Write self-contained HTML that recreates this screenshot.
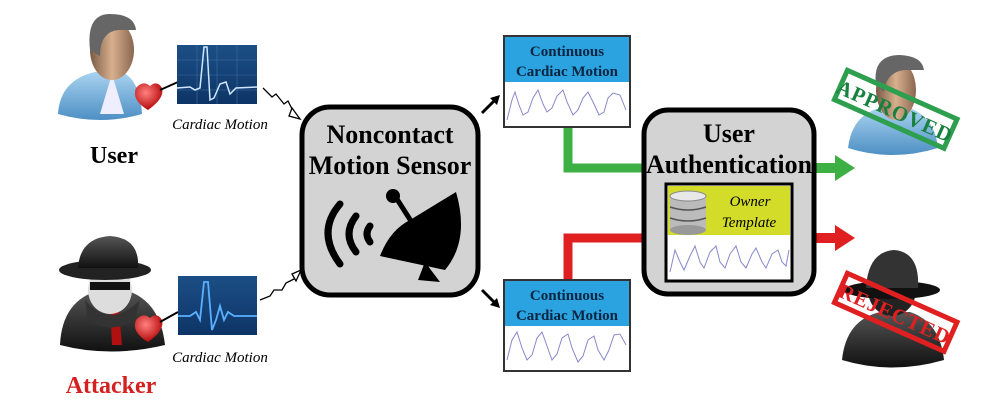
<!DOCTYPE html>
<html><head><meta charset="utf-8"><style>html,body{margin:0;padding:0;background:#fff;}svg{display:block}</style></head>
<body>
<svg width="989" height="408" viewBox="0 0 989 408" xmlns="http://www.w3.org/2000/svg" font-family="Liberation Serif, serif">
<defs>
<linearGradient id="skin" x1="0" y1="0" x2="1" y2="0"><stop offset="0" stop-color="#7a5a45"/><stop offset="0.5" stop-color="#d8b08e"/><stop offset="1" stop-color="#8a6650"/></linearGradient>
<linearGradient id="shirt" x1="0" y1="0" x2="0" y2="1"><stop offset="0" stop-color="#a9d3f0"/><stop offset="1" stop-color="#4d8fc4"/></linearGradient>
<linearGradient id="ecg" x1="0" y1="0" x2="0" y2="1"><stop offset="0" stop-color="#1b4f86"/><stop offset="1" stop-color="#0e3466"/></linearGradient>
<linearGradient id="blk" x1="0" y1="0" x2="0" y2="1"><stop offset="0" stop-color="#555"/><stop offset="1" stop-color="#111"/></linearGradient>
<radialGradient id="heart" cx="0.4" cy="0.35" r="0.7"><stop offset="0" stop-color="#ff8080"/><stop offset="1" stop-color="#b00000"/></radialGradient>
</defs>

<!-- User figure -->
<path d="M58 114 Q60 80 95 72 L122 72 Q140 80 142 114 Q100 126 58 114Z" fill="url(#shirt)"/>
<path d="M112 74 L124 114 L100 114Z" fill="#eef"/>
<ellipse cx="112" cy="50" rx="22" ry="30" fill="url(#skin)"/>
<path d="M90 50 Q86 14 110 14 Q134 14 136 30 L118 30 Q100 32 100 56 Z" fill="#666"/>
<path d="M136 88 q7 -8 14 -2 q7 -6 12 2 q3 10 -14 22 q-17 -10 -12 -22Z" fill="url(#heart)"/>
<line x1="160" y1="90" x2="178" y2="82" stroke="#000" stroke-width="2"/>
<!-- ECG user -->
<rect x="177" y="45" width="80" height="59" fill="url(#ecg)"/>
<g stroke="#3d6fa5" stroke-width="0.6"><line x1="177" y1="60" x2="257" y2="60"/><line x1="177" y1="75" x2="257" y2="75"/><line x1="177" y1="90" x2="257" y2="90"/><line x1="197" y1="45" x2="197" y2="104"/><line x1="217" y1="45" x2="217" y2="104"/><line x1="237" y1="45" x2="237" y2="104"/></g>
<polyline points="177,88 190,87 195,90 200,88 204,47 207,47 210,100 214,98 220,84 226,82 230,94 236,88 257,87" fill="none" stroke="#cfe8ff" stroke-width="1.5"/>
<text x="220" y="129" font-size="15" font-style="italic" text-anchor="middle">Cardiac Motion</text>
<text x="114" y="163" font-size="24" font-weight="bold" text-anchor="middle">User</text>
<polyline points="263,88 272,97 276,94 284,104 288,101 294,113" fill="none" stroke="#000" stroke-width="1.3"/>
<path d="M292 108 l8 11 -11 -3z" fill="#fff" stroke="#000" stroke-width="1.3"/>

<!-- Attacker -->
<path d="M60 345 Q62 300 100 290 L125 290 Q160 300 165 345 Q110 358 60 345Z" fill="url(#blk)"/>
<path d="M110 300 L118 300 L122 345 L112 345Z" fill="#b01010"/>
<ellipse cx="110" cy="290" rx="22" ry="24" fill="#ddd"/>
<rect x="90" y="282" width="40" height="8" fill="#111"/>
<path d="M85 300 Q110 330 140 300 L135 320 Q110 335 88 320Z" fill="#333"/>
<ellipse cx="105" cy="270" rx="46" ry="10" fill="#222"/>
<path d="M78 268 Q80 238 110 236 Q140 238 138 268Z" fill="url(#blk)"/>
<path d="M136 320 q7 -8 14 -2 q7 -6 12 2 q3 10 -14 22 q-17 -10 -12 -22Z" fill="url(#heart)"/>
<line x1="160" y1="322" x2="178" y2="312" stroke="#000" stroke-width="2"/>
<rect x="178" y="276" width="79" height="59" fill="url(#ecg)"/>
<polyline points="178,316 190,316 196,312 200,320 204,282 208,282 212,330 216,320 220,306 224,320 228,312 234,316 257,316" fill="none" stroke="#5ab0ff" stroke-width="1.8"/>
<text x="220" y="362" font-size="15" font-style="italic" text-anchor="middle">Cardiac Motion</text>
<text x="111" y="393" font-size="24" font-weight="bold" fill="#d42020" text-anchor="middle">Attacker</text>
<polyline points="260,300 270,296 274,290 282,290 286,283 296,278" fill="none" stroke="#000" stroke-width="1.3"/>
<path d="M292 274 l9 -4 -5 11z" fill="#fff" stroke="#000" stroke-width="1.3"/>

<!-- Sensor box -->
<rect x="302" y="107" width="176" height="188" rx="28" fill="#d3d3d3" stroke="#000" stroke-width="5"/>
<text x="390" y="143" font-size="26" font-weight="bold" text-anchor="middle">Noncontact</text>
<text x="390" y="174" font-size="26" font-weight="bold" text-anchor="middle">Motion Sensor</text>
<g fill="none" stroke="#000" stroke-width="7" stroke-linecap="round">
<path d="M340 204 Q316 232 340 264"/><path d="M356 216 Q342 234 356 252"/><path d="M370 226 Q364 234 370 242"/>
</g>
<path d="M456 192 Q470 240 445 270 L380 256 Q390 230 410 220 Z" fill="#000"/>
<path d="M425 262 L418 280 L440 282 Z" fill="#000"/>
<line x1="395" y1="196" x2="418" y2="232" stroke="#000" stroke-width="5"/>
<circle cx="393" cy="196" r="7" fill="#000"/>

<!-- arrows from sensor -->
<line x1="482" y1="113" x2="494" y2="101" stroke="#000" stroke-width="3"/>
<path d="M500 95 l-10 3 7 7z" fill="#000"/>
<line x1="482" y1="290" x2="494" y2="302" stroke="#000" stroke-width="3"/>
<path d="M500 308 l-10 -3 7 -7z" fill="#000"/>

<!-- Continuous boxes -->
<g>
<rect x="504" y="36" width="126" height="91" fill="#fff" stroke="#333" stroke-width="2"/>
<rect x="505" y="37" width="124" height="45" fill="#2aa3e0"/>
<text x="567" y="56" font-size="15" font-weight="bold" fill="#0a2540" text-anchor="middle">Continuous</text>
<text x="567" y="76" font-size="15" font-weight="bold" fill="#0a2540" text-anchor="middle">Cardiac Motion</text>
<polyline points="507,120 512,100 515,92 519,105 523,115 528,112 533,98 538,90 543,104 547,112 552,108 557,96 563,90 567,102 573,115 578,110 583,98 588,92 594,104 599,115 604,112 608,98 613,93 620,95 626,110" fill="none" stroke="#8888cc" stroke-width="1"/>
<rect x="504" y="280" width="126" height="91" fill="#fff" stroke="#333" stroke-width="2"/>
<rect x="505" y="281" width="124" height="45" fill="#2aa3e0"/>
<text x="567" y="300" font-size="15" font-weight="bold" fill="#0a2540" text-anchor="middle">Continuous</text>
<text x="567" y="320" font-size="15" font-weight="bold" fill="#0a2540" text-anchor="middle">Cardiac Motion</text>
<polyline points="507,360 512,340 517,332 522,348 527,360 532,355 537,338 542,332 547,346 552,360 557,354 562,338 568,334 572,348 578,362 583,356 588,340 594,336 598,350 604,360 609,350 614,335 620,334 626,345" fill="none" stroke="#8888cc" stroke-width="1"/>
</g>

<!-- connectors -->
<polyline points="568,128 568,168 645,168" fill="none" stroke="#3cb043" stroke-width="9"/>
<polyline points="568,279 568,238 645,238" fill="none" stroke="#e02020" stroke-width="9"/>
<rect x="815" y="163" width="22" height="10" fill="#3cb043"/>
<path d="M835 155 L855 168 L835 181Z" fill="#3cb043"/>
<rect x="815" y="233" width="22" height="10" fill="#e02020"/>
<path d="M835 225 L855 238 L835 251Z" fill="#e02020"/>

<!-- Auth box -->
<rect x="644" y="110" width="170" height="184" rx="24" fill="#d3d3d3" stroke="#000" stroke-width="5"/>
<text x="729" y="142" font-size="26" font-weight="bold" text-anchor="middle">User</text>
<text x="729" y="173" font-size="26" font-weight="bold" text-anchor="middle">Authentication</text>
<rect x="666" y="184" width="126" height="97" fill="#fff" stroke="#000" stroke-width="3"/>
<rect x="668" y="186" width="122" height="49" fill="#d4dc2a"/>
<g>
<rect x="670" y="196" width="36" height="34" fill="#bbb"/>
<ellipse cx="688" cy="196" rx="18" ry="5" fill="#e8e8e8" stroke="#888"/>
<path d="M670 207 Q688 213 706 207 M670 218 Q688 224 706 218" stroke="#555" fill="none" stroke-width="1.5"/>
<ellipse cx="688" cy="230" rx="18" ry="5" fill="#999"/>
</g>
<text x="750" y="206" font-size="15" font-style="italic" text-anchor="middle">Owner</text>
<text x="749" y="227" font-size="15" font-style="italic" text-anchor="middle">Template</text>
<polyline points="670,272 675,250 680,262 684,270 690,256 695,246 700,262 704,268 710,252 716,246 720,262 725,268 730,254 736,246 741,262 746,268 752,254 756,248 762,262 766,268 772,254 778,250 782,262 786,266 789,250" fill="none" stroke="#8888cc" stroke-width="1"/>

<!-- approved -->
<path d="M848 148 Q852 115 880 108 L910 108 Q935 118 938 148 Q892 162 848 148Z" fill="url(#shirt)"/>
<ellipse cx="896" cy="90" rx="20" ry="30" fill="url(#skin)"/>
<path d="M876 85 Q872 55 900 55 Q922 56 924 70 L905 70 Q886 72 884 92 Z" fill="#666"/>
<g transform="rotate(24 888 107)">
<rect x="836" y="90" width="120" height="32" fill="none" stroke="#2e9e4f" stroke-width="5"/>
<text x="896" y="115" font-size="21" font-weight="bold" fill="#1a8040" text-anchor="middle" letter-spacing="1">APPROVED</text>
</g>

<!-- rejected -->
<path d="M842 360 Q846 320 880 312 L910 312 Q940 322 944 360 Q892 375 842 360Z" fill="url(#blk)"/>
<ellipse cx="892" cy="290" rx="24" ry="26" fill="#222"/>
<ellipse cx="892" cy="290" rx="48" ry="9" fill="#111"/>
<path d="M866 288 Q868 252 894 250 Q920 252 918 288Z" fill="#333"/>
<g transform="rotate(24 888 310)">
<rect x="836" y="293" width="120" height="32" fill="none" stroke="#e02020" stroke-width="5"/>
<text x="896" y="318" font-size="21" font-weight="bold" fill="#e02020" text-anchor="middle" letter-spacing="1">REJECTED</text>
</g>
</svg>
</body></html>
